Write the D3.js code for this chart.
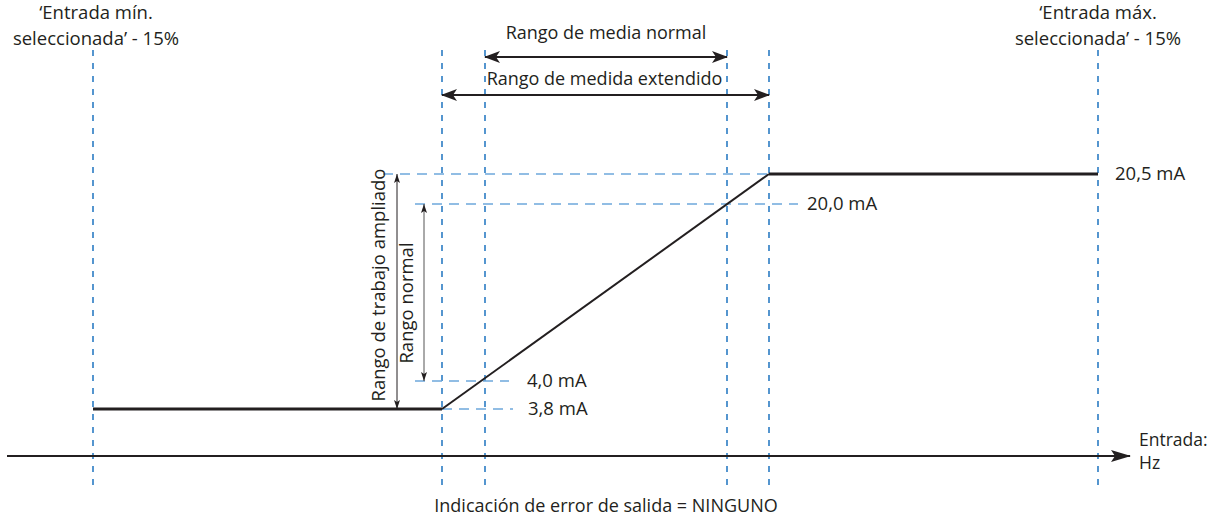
<html>
<head>
 <meta charset="UTF-8">
 <title>Indicación de error de salida = NINGUNO</title>
 <script type="text/javascript" src="https://cdn.jsdelivr.net/npm/d3@7"></script>
 <style>
body {
  margin: 0;
  background: #fff;
}
svg {
  display: block;
  font-family: "Open Sans", sans-serif;
  fill: #231f20;
}
text {
  fill: #231f20;
}
.vguide {
  stroke: #2b7cc4;
  stroke-width: 1.6px;
  stroke-dasharray: 6,7;
}
.hguide {
  stroke: #6ea8dc;
  stroke-width: 1.6px;
  stroke-dasharray: 10,7;
}
.output {
  fill: none;
  stroke: #231f20;
  stroke-linejoin: miter;
}
 </style>
</head>

<body>
 <svg width="1213" height="519"></svg>
</body>

<script type="text/javascript">
// entrada en % del rango seleccionado, salida en mA
var guideInputs = [-15, -1.25, 0, 100, 103.125, 115];
var outInputs = [-15, -1.25, 103.125, 115];
var outMA = [3.8, 3.8, 20.5, 20.5];
var levelMA = [20.5, 20.0, 4.0, 3.8];
var levelLabels = ["20,5 mA", "20,0 mA", "4,0 mA", "3,8 mA"];
var cornerLabels = [["\u2018Entrada mín.", "seleccionada\u2019 - 15%"], ["\u2018Entrada máx.", "seleccionada\u2019 - 15%"]];
var cornerInputs = [-15, 115];
var spanLabels = ["Rango de media normal", "Rango de medida extendido"];
var spanFrom = [0, -1.25];
var spanTo = [100, 103.125];
var vSpanLabels = ["Rango de trabajo ampliado", "Rango normal"];
var vSpanFrom = [3.8, 4.0];
var vSpanTo = [20.5, 20.0];

var svg = d3.select("svg"),
  axisY = 456,
  x = d3.scaleLinear().domain(guideInputs).range([93, 442, 485, 727, 769, 1098]),
  y = d3.scaleLinear().domain([3.8, 4.0, 20.0, 20.5]).range([409, 381, 204, 174]);

var defs = svg.append("defs");
defs.append("marker").attr("id", "headBig")
  .attr("viewBox", "0 -6 16 12").attr("refX", 15).attr("refY", 0)
  .attr("markerUnits", "userSpaceOnUse").attr("markerWidth", 16).attr("markerHeight", 12)
  .attr("orient", "auto-start-reverse")
  .append("path").attr("d", "M0,-6L16,0L0,6L4,0Z").attr("fill", "#231f20");
defs.append("marker").attr("id", "headAxis")
  .attr("viewBox", "0 -6 20 12").attr("refX", 19).attr("refY", 0)
  .attr("markerUnits", "userSpaceOnUse").attr("markerWidth", 20).attr("markerHeight", 12)
  .attr("orient", "auto")
  .append("path").attr("d", "M0,-6L20,0L0,6L4,0Z").attr("fill", "#231f20");
defs.append("marker").attr("id", "headSmall")
  .attr("viewBox", "0 -3 9 6").attr("refX", 9).attr("refY", 0)
  .attr("markerUnits", "userSpaceOnUse").attr("markerWidth", 9).attr("markerHeight", 6)
  .attr("orient", "auto-start-reverse")
  .append("path").attr("d", "M0,-3L9,0L0,3L2,0Z").attr("fill", "#231f20");

// guías verticales
svg.selectAll(".vguide").data(guideInputs).enter().append("line")
  .attr("class", "vguide")
  .attr("x1", function(d){ return x(d); }).attr("x2", function(d){ return x(d); })
  .attr("y1", 50).attr("y2", 490);

// guías horizontales (inicio/fin relativos a las marcas)
var hStart = [x(-1.25) - 59, x(-1.25) - 27, x(-1.25) - 27, x(-1.25)],
  hEnd = [x(103.125), x(103.125) + 29, x(0) + 24, x(0) + 28];
svg.selectAll(".hguide").data(levelMA).enter().append("line")
  .attr("class", "hguide")
  .attr("x1", function(d, i){ return hStart[i]; })
  .attr("x2", function(d, i){ return hEnd[i]; })
  .attr("y1", function(d){ return y(d); }).attr("y2", function(d){ return y(d); });

// etiquetas mA
var labelX = [x(115) + 17, x(103.125) + 38, x(0) + 42, x(0) + 43];
svg.selectAll(".mA").data(levelMA).enter().append("text")
  .attr("class", "mA")
  .attr("x", function(d, i){ return labelX[i]; })
  .attr("y", function(d){ return y(d) + 6; })
  .attr("font-size", 18.5)
  .text(function(d, i){ return levelLabels[i]; });

// eje de entrada
svg.append("line")
  .attr("x1", 7).attr("x2", 1130).attr("y1", axisY).attr("y2", axisY)
  .attr("stroke", "#231f20").attr("stroke-width", 2)
  .attr("marker-end", "url(#headAxis)");
svg.append("text").attr("x", 1139).attr("y", 446).attr("font-size", 17.5).text("Entrada:");
svg.append("text").attr("x", 1139).attr("y", 469).attr("font-size", 17.5).text("Hz");

// señal de salida
var outData = outInputs.map(function(d, i){ return [d, outMA[i]]; });
svg.append("path")
  .attr("class", "output")
  .attr("stroke-width", 2)
  .attr("d", d3.line().x(function(d){ return x(d[0]); }).y(function(d){ return y(d[1]); })(outData.slice(1, 3)));
[[outData[0], outData[1]], [outData[2], outData[3]]].forEach(function(seg){
  svg.append("path")
    .attr("class", "output")
    .attr("stroke-width", 3)
    .attr("d", d3.line().x(function(d){ return x(d[0]); }).y(function(d){ return y(d[1]); })(seg));
});

// rangos horizontales
var spanY = [57, 95], spanTextY = [39, 85];
spanLabels.forEach(function(lbl, i){
  svg.append("line")
    .attr("x1", x(spanFrom[i])).attr("x2", x(spanTo[i]))
    .attr("y1", spanY[i]).attr("y2", spanY[i])
    .attr("stroke", "#231f20").attr("stroke-width", 2)
    .attr("marker-start", "url(#headBig)").attr("marker-end", "url(#headBig)");
  svg.append("text")
    .attr("x", (x(spanFrom[i]) + x(spanTo[i])) / 2 + (i ? -1 : 0)).attr("y", spanTextY[i])
    .attr("text-anchor", "middle").attr("font-size", 18)
    .text(lbl);
});

// rangos verticales
var vX = [397, 424], vTextX = [385, 413], vStroke = ["#231f20", "#555"];
vSpanLabels.forEach(function(lbl, i){
  svg.append("line")
    .attr("x1", vX[i]).attr("x2", vX[i])
    .attr("y1", y(vSpanFrom[i])).attr("y2", y(vSpanTo[i]))
    .attr("stroke", vStroke[i]).attr("stroke-width", 1)
    .attr("marker-start", "url(#headSmall)").attr("marker-end", "url(#headSmall)");
  var cy = i ? 303 : 285;
  svg.append("text")
    .attr("transform", "translate(" + vTextX[i] + "," + cy + ") rotate(-90)")
    .attr("text-anchor", "middle").attr("font-size", 18.5)
    .text(lbl);
});

// textos de esquina
cornerLabels.forEach(function(lines, i){
  lines.forEach(function(l, j){
    svg.append("text")
      .attr("text-anchor", "middle").attr("font-size", 18.5)
      .attr("x", x(cornerInputs[i]) + (i ? 0 : 3)).attr("y", 19 + j * 25.5)
      .text(l);
  });
});

svg.append("text")
  .attr("x", 606).attr("y", 512)
  .attr("text-anchor", "middle").attr("font-size", 18)
  .text("Indicación de error de salida = NINGUNO");
</script>
</html>
